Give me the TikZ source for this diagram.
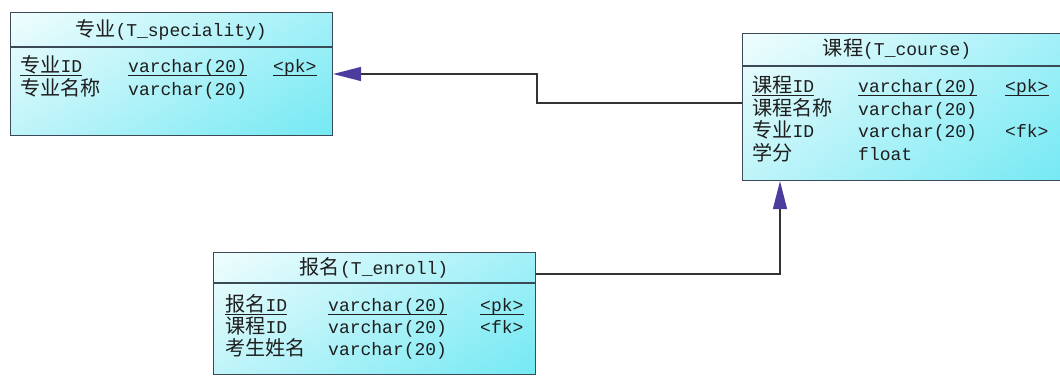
\documentclass[tikz,border=0pt]{standalone}
\usepackage{fontspec}
\setmonofont{Liberation Mono}
\newfontfamily\cjk[Scale=1.12]{Noto Sans CJK SC}
\usetikzlibrary{arrows.meta,shadings}
\definecolor{boxc}{HTML}{3C4A58}
\definecolor{linec}{HTML}{333333}
\definecolor{arrc}{HTML}{4B3C9E}
\definecolor{txtc}{HTML}{1E1E1E}
\definecolor{ulc}{HTML}{F0FDFD}
\definecolor{urc}{HTML}{A2F0F8}
\definecolor{llc}{HTML}{BFF4F9}
\definecolor{lrc}{HTML}{74E9F3}
\newcommand{\C}[1]{{\cjk #1}}
\tikzset{
  box/.style={draw=boxc, line width=1.1pt, inner sep=0pt, anchor=north west,
    upper left=ulc, upper right=urc, lower left=llc, lower right=lrc},
  sep/.style={draw=boxc, line width=1.1pt},
  txt/.style={inner sep=0pt, anchor=base west, text=txtc, font=\ttfamily\fontsize{18}{22}\selectfont},
  ttl/.style={inner sep=0pt, anchor=base, text=txtc, font=\ttfamily\fontsize{18}{22}\selectfont},
  ul/.style={draw=txtc, line width=0.9pt},
  conn/.style={draw=linec, line width=1.3pt},
  tipend/.style={-{Triangle[length=28pt,width=14pt,color=arrc,fill=arrc]}}
}
\begin{document}
\begin{tikzpicture}[x=1pt,y=-1pt]
\useasboundingbox (0,0) rectangle (1060,376);
% boxes
\node[box, minimum width=322pt, minimum height=123pt] (spec) at (10,12) {};
\node[box, minimum width=322pt, minimum height=147pt] (course) at (742,33) {};
\node[box, minimum width=322pt, minimum height=122pt] (enroll) at (213,252) {};
\draw[sep] (spec.west |- 0,47) -- (spec.east |- 0,47);
\draw[sep] (course.west |- 0,66) -- (course.east |- 0,66);
\draw[sep] (enroll.west |- 0,283) -- (enroll.east |- 0,283);
% titles
\node[ttl] (t1) at (171,36) {\C{专业}(T\_speciality)};
\node[ttl] (t2) at (897,55) {\C{课程}(T\_course)};
\node[ttl] (t3) at (374,274) {\C{报名}(T\_enroll)};
% box 1 rows
\node[txt] (a1) at (20,72) {\C{专业}ID};
\node[txt] (a2) at (128,72) {varchar(20)};
\node[txt] (a3) at (273,72) {<pk>};
\node[txt] (a4) at (20,95) {\C{专业名称}};
\node[txt] (a5) at (128,95) {varchar(20)};
\foreach \n in {a1,a2,a3} \draw[ul] ([yshift=-3pt]\n.base west) -- ([yshift=-3pt]\n.base east);
% box 2 rows
\node[txt] (b1) at (752,92) {\C{课程}ID};
\node[txt] (b2) at (858,92) {varchar(20)};
\node[txt] (b3) at (1005,92) {<pk>};
\node[txt] (b4) at (752,115) {\C{课程名称}};
\node[txt] (b5) at (858,115) {varchar(20)};
\node[txt] (b6) at (752,137) {\C{专业}ID};
\node[txt] (b7) at (858,137) {varchar(20)};
\node[txt] (b8) at (1005,137) {<fk>};
\node[txt] (b9) at (752,160) {\C{学分}};
\node[txt] (b10) at (858,160) {float};
\foreach \n in {b1,b2,b3} \draw[ul] ([yshift=-3pt]\n.base west) -- ([yshift=-3pt]\n.base east);
% box 3 rows
\node[txt] (c1) at (225,311) {\C{报名}ID};
\node[txt] (c2) at (328,311) {varchar(20)};
\node[txt] (c3) at (480,311) {<pk>};
\node[txt] (c4) at (225,333) {\C{课程}ID};
\node[txt] (c5) at (328,333) {varchar(20)};
\node[txt] (c6) at (480,333) {<fk>};
\node[txt] (c7) at (225,355) {\C{考生姓名}};
\node[txt] (c8) at (328,355) {varchar(20)};
\foreach \n in {c1,c2,c3} \draw[ul] ([yshift=-3pt]\n.base west) -- ([yshift=-3pt]\n.base east);
% connectors
\coordinate (y103) at (0,103);
\coordinate (y74) at (0,74);
\coordinate (y274) at (0,274);
\coordinate (x537) at (537,0);
\coordinate (x780) at (780,0);
\draw[conn, tipend] (course.west |- y103) -- (x537 |- y103) -- (x537 |- y74) -- (spec.east |- y74);
\draw[conn, tipend] (enroll.east |- y274) -- (x780 |- y274) -- (x780 |- course.south);
\end{tikzpicture}
\end{document}
